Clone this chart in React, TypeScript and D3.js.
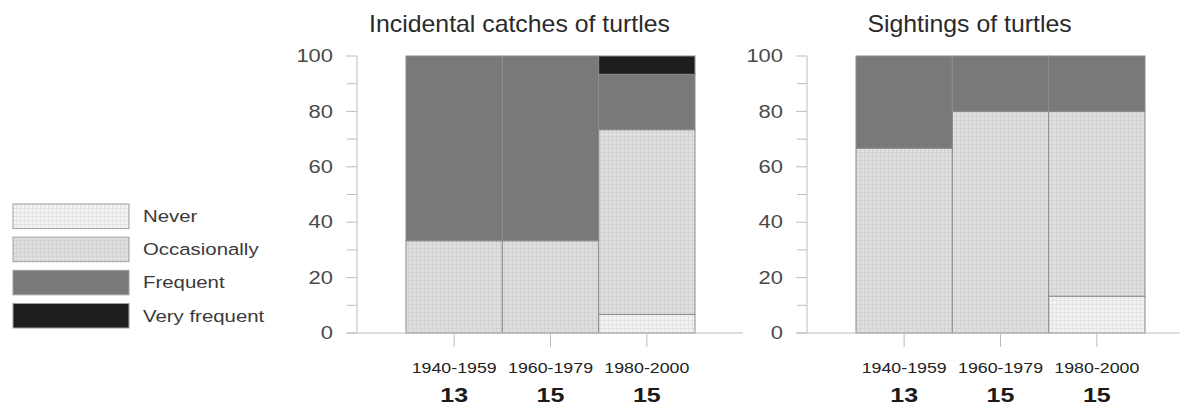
import React from 'react';
import * as d3 from 'd3';

const PERIODS = ['1940-1959', '1960-1979', '1980-2000'];
const COUNTS = [13, 15, 15];
const KEYS = ['Never', 'Occasionally', 'Frequent', 'Very frequent'];

// percentages per period, one array per answer
const CATCH_NEVER = [0, 0, 6.7];
const CATCH_OCCASIONALLY = [33.3, 33.3, 66.7];
const CATCH_FREQUENT = [66.7, 66.7, 20];
const CATCH_VERY = [0, 0, 6.6];

const SIGHT_NEVER = [0, 0, 13.3];
const SIGHT_OCCASIONALLY = [66.7, 80, 66.7];
const SIGHT_FREQUENT = [33.3, 20, 20];
const SIGHT_VERY = [0, 0, 0];

const Y_TICKS = [0, 20, 40, 60, 80, 100];
const Y_MINOR = [10, 30, 50, 70, 90];

const FILLS: Record<string, string> = {
  'Never': 'url(#pat-never)',
  'Occasionally': 'url(#pat-occ)',
  'Frequent': '#797979',
  'Very frequent': '#1e1e1e',
};

const FONT = "'Liberation Sans', Arial, Helvetica, sans-serif";

const rows = (never: number[], occ: number[], freq: number[], very: number[]) =>
  PERIODS.map((p, i) => ({
    period: p,
    'Never': never[i],
    'Occasionally': occ[i],
    'Frequent': freq[i],
    'Very frequent': very[i],
  }));

const PANELS = [
  { title: 'Incidental catches of turtles', axisX: 357, data: rows(CATCH_NEVER, CATCH_OCCASIONALLY, CATCH_FREQUENT, CATCH_VERY) },
  { title: 'Sightings of turtles', axisX: 807, data: rows(SIGHT_NEVER, SIGHT_OCCASIONALLY, SIGHT_FREQUENT, SIGHT_VERY) },
];

// stretched text, the source font is wider than Arial
const SText: React.FC<{
  x: number; y: number; sx?: number; size: number; anchor?: string;
  weight?: number | string; fill?: string; children: React.ReactNode;
}> = ({ x, y, sx = 1.2, size, anchor = 'start', weight = 400, fill = '#333', children }) => (
  <text
    transform={`translate(${x},${y}) scale(${sx},1)`}
    textAnchor={anchor}
    dominantBaseline="central"
    fontFamily={FONT}
    fontSize={size}
    fontWeight={weight}
    fill={fill}
  >
    {children}
  </text>
);

const Panel: React.FC<{ title: string; axisX: number; data: any[] }> = ({ title, axisX, data }) => {
  const y = d3.scaleLinear().domain([0, 100]).range([333, 56]);
  const x = d3.scaleBand().domain(PERIODS).range([axisX + 49, axisX + 338]).padding(0);
  const stack = d3.stack<any>().keys(KEYS);
  const series = stack(data);
  const axisColor = '#bdbdbd';
  const cx = (x(PERIODS[0])! + x(PERIODS[2])! + x.bandwidth()) / 2;

  return (
    <g>
      <SText x={cx - 31} y={24} size={23} sx={1.08} anchor="middle" fill="#2a2a2a">{title}</SText>

      {/* bars */}
      {series.map(s => (
        <g key={s.key}>
          {s.map((d, i) => {
            const h = y(d[0]) - y(d[1]);
            if (h <= 0) return null;
            return (
              <rect
                key={i}
                x={x(PERIODS[i])}
                y={y(d[1])}
                width={x.bandwidth()}
                height={h}
                fill={FILLS[s.key]}
                stroke="#8c8c8c"
                strokeWidth={1}
              />
            );
          })}
        </g>
      ))}

      {/* y axis */}
      <line x1={axisX} x2={axisX} y1={y(100)} y2={y(0)} stroke={axisColor} />
      {Y_MINOR.map(t => (
        <line key={'m' + t} x1={axisX - 10} x2={axisX} y1={y(t)} y2={y(t)} stroke={axisColor} />
      ))}
      {Y_TICKS.map(t => (
        <g key={t}>
          <line x1={axisX - 11} x2={axisX} y1={y(t)} y2={y(t)} stroke={axisColor} />
          <SText x={axisX - 24} y={y(t)} size={18} sx={1.22} anchor="end" fill="#4a4a4a">{t}</SText>
        </g>
      ))}

      {/* x axis */}
      <line x1={axisX - 10} x2={axisX + 386} y1={y(0)} y2={y(0)} stroke={axisColor} />
      {PERIODS.map((p, i) => {
        const px = x(p)! + x.bandwidth() / 2;
        return (
          <g key={p}>
            <line x1={px} x2={px} y1={y(0)} y2={y(0) + 14} stroke={axisColor} />
            <SText x={px} y={368.5} size={14} sx={1.27} anchor="middle" fill="#222">{p}</SText>
            <SText x={px} y={395.5} size={20} sx={1.25} anchor="middle" weight={700} fill="#1a1a1a">{COUNTS[i]}</SText>
          </g>
        );
      })}
    </g>
  );
};

const Legend: React.FC = () => {
  const yl = d3.scaleBand().domain(KEYS).range([204, 328]).paddingInner(0.26).paddingOuter(0);
  return (
    <g>
      {KEYS.map(k => (
        <g key={k}>
          <rect x={13} y={yl(k)} width={116} height={yl.bandwidth()} fill={FILLS[k]} stroke="#a0a0a0" />
          <SText x={143} y={yl(k)! + yl.bandwidth() / 2} size={17} sx={1.2} fill="#3a3a3a">{k}</SText>
        </g>
      ))}
    </g>
  );
};

export default function App() {
  return (
    <svg
      width={1180}
      height={408}
      style={{ position: 'absolute', left: 0, top: 0, background: '#fff', display: 'block' }}
    >
      <defs>
        <pattern id="pat-occ" width={4} height={4} patternUnits="userSpaceOnUse">
          <rect width={4} height={4} fill="#e0e0e0" />
          <path d="M0 0.5H4M0.5 0V4" stroke="#d2d2d2" strokeWidth={1} />
        </pattern>
        <pattern id="pat-never" width={4} height={4} patternUnits="userSpaceOnUse">
          <rect width={4} height={4} fill="#f3f3f3" />
          <path d="M0 0.5H4M0.5 0V4" stroke="#e3e3e3" strokeWidth={1} />
        </pattern>
      </defs>
      <Legend />
      {PANELS.map(p => (
        <Panel key={p.title} title={p.title} axisX={p.axisX} data={p.data} />
      ))}
    </svg>
  );
}
